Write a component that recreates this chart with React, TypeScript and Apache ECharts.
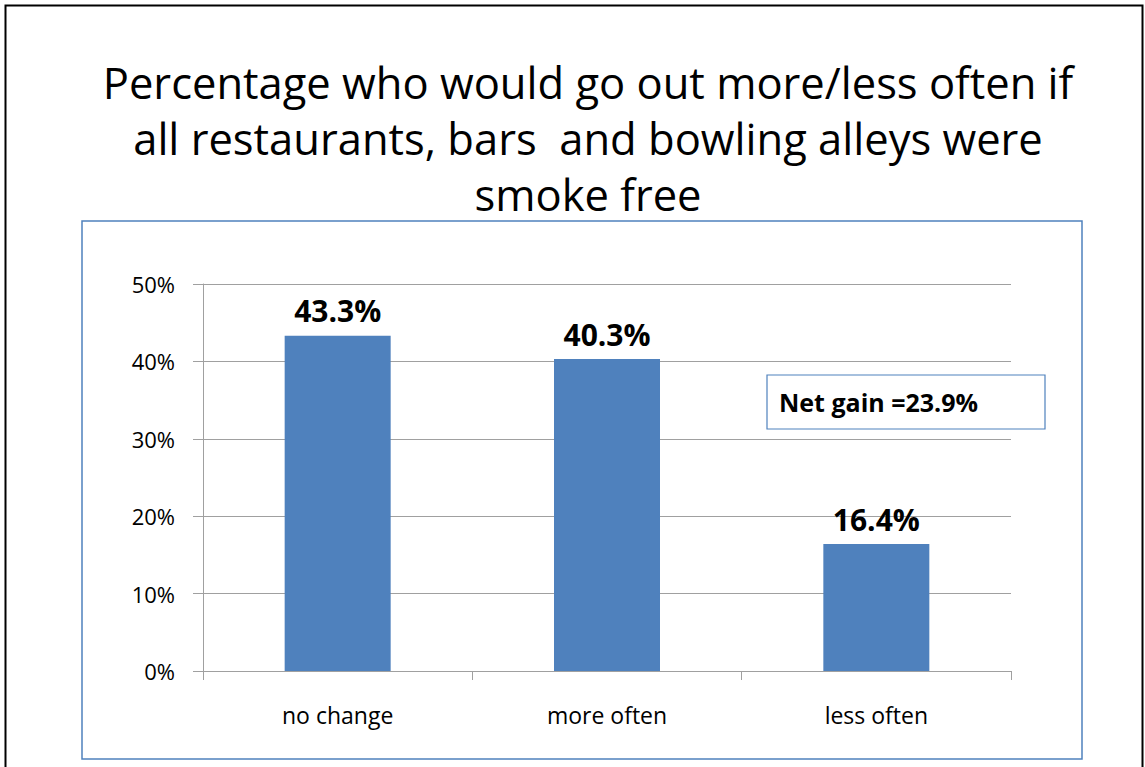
import React, { useEffect, useRef } from "react";
import * as echarts from "echarts";

const categories = ["no change", "more often", "less often"];
const values = [43.3, 40.3, 16.4];
const yTicks = [0, 10, 20, 30, 40, 50];
const titleLines = [
  "Percentage who would go out more/less often if",
  "all restaurants, bars  and bowling alleys were",
  "smoke free",
];
const noteText = "Net gain =23.9%";

const FONT = "'Open Sans', 'Noto Sans', sans-serif";

export default function App() {
  const ref = useRef<HTMLDivElement>(null);
  useEffect(() => {
    if (!ref.current) return;
    const chart = echarts.init(ref.current, undefined, { renderer: "svg" });
    chart.setOption({
      animation: false,
      backgroundColor: "#ffffff",
      grid: { left: 203, right: 134, top: 284, bottom: 96, containLabel: false },
      xAxis: {
        type: "category",
        data: categories,
        axisLine: { lineStyle: { color: "#a0a0a0", width: 1 } },
        axisTick: { show: true, length: 9, lineStyle: { color: "#a0a0a0" } },
        axisLabel: { color: "#000", fontSize: 23, fontFamily: FONT, margin: 32 },
      },
      yAxis: {
        type: "value",
        min: yTicks[0],
        max: yTicks[yTicks.length - 1],
        interval: 10,
        axisLine: { show: true, lineStyle: { color: "#a0a0a0" } },
        axisTick: { show: true, length: 10, inside: false, lineStyle: { color: "#a0a0a0" } },
        splitLine: { lineStyle: { color: "#a0a0a0", width: 1 } },
        axisLabel: {
          color: "#000",
          fontSize: 22,
          fontFamily: FONT,
          margin: 28,
          formatter: (v: number) => v + "%",
        },
      },
      series: [
        {
          type: "bar",
          data: values,
          barWidth: 106,
          itemStyle: { color: "#4f81bd" },
          label: {
            show: true,
            position: "top",
            distance: 10,
            color: "#000",
            fontWeight: "bold",
            fontSize: 30,
            fontFamily: FONT,
            formatter: (p: any) => p.value.toFixed(1) + "%",
          },
        },
      ],
      graphic: [
        {
          type: "rect",
          shape: { x: 5.5, y: 5.5, width: 1137, height: 800 },
          style: { fill: "none", stroke: "#000", lineWidth: 2 },
          silent: true,
          z: 10,
        },
        {
          type: "rect",
          shape: { x: 82, y: 221, width: 1000, height: 538 },
          style: { fill: "none", stroke: "#4f81bd", lineWidth: 1.5 },
          silent: true,
          z: 10,
        },
        ...titleLines.map((t, i) => ({
          type: "text",
          x: 588,
          y: 82 + i * 56,
          style: {
            text: t,
            fill: "#000",
            font: `43.5px ${FONT}`,
            textAlign: "center",
            textVerticalAlign: "middle",
          },
          z: 10,
        })),
        {
          type: "rect",
          shape: { x: 767, y: 375, width: 278, height: 54 },
          style: { fill: "#fff", stroke: "#4f81bd", lineWidth: 1.2 },
          z: 10,
        },
        {
          type: "text",
          x: 779,
          y: 402,
          style: {
            text: noteText,
            fill: "#000",
            font: `bold 25px ${FONT}`,
            textAlign: "left",
            textVerticalAlign: "middle",
          },
          z: 11,
        },
      ],
    });
    return () => chart.dispose();
  }, []);
  return (
    <div
      ref={ref}
      style={{ position: "absolute", left: 0, top: 0, width: 1145, height: 767 }}
    />
  );
}
